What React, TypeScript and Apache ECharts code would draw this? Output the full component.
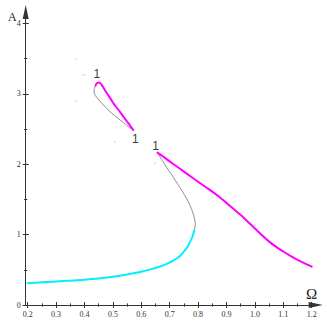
import React, { useEffect, useRef } from "react";
import * as echarts from "echarts";

// Tick values
const xMajorTicks = [0.2, 0.3, 0.4, 0.5, 0.6, 0.7, 0.8, 0.9, 1.0, 1.1, 1.2];
const xMinorTicks = [0.25, 0.35, 0.45, 0.55, 0.65, 0.75, 0.85, 0.95, 1.05, 1.15];
const yMajorTicks = [0, 1, 2, 3, 4];
const yMinorTicks = [0.5, 1.5, 2.5, 3.5];

// Lower stable branch (cyan)
const lowerStable: [number, number][] = [
  [0.2, 0.31], [0.25, 0.322], [0.3, 0.334], [0.35, 0.346], [0.4, 0.36], [0.45, 0.378],
  [0.5, 0.4], [0.55, 0.432], [0.6, 0.473], [0.63, 0.503], [0.66, 0.54], [0.69, 0.585],
  [0.71, 0.625], [0.725, 0.66], [0.737, 0.7], [0.748, 0.75], [0.758, 0.8], [0.766, 0.85],
  [0.772, 0.9], [0.778, 0.95], [0.782, 1.0], [0.787, 1.06],
];
// Middle unstable branch (grey)
const middleUnstable: [number, number][] = [
  [0.787, 1.06], [0.79, 1.15], [0.786, 1.25], [0.778, 1.35], [0.768, 1.45], [0.754, 1.55],
  [0.739, 1.65], [0.723, 1.75], [0.707, 1.85], [0.69, 1.95], [0.674, 2.05], [0.657, 2.165],
];
// Upper stable branch (magenta)
const upperStable: [number, number][] = [
  [0.657, 2.165], [0.68, 2.1], [0.7, 2.04], [0.725, 1.967], [0.75, 1.895], [0.775, 1.822],
  [0.8, 1.75], [0.825, 1.68], [0.85, 1.61], [0.875, 1.533], [0.9, 1.45], [0.925, 1.365],
  [0.95, 1.277], [0.975, 1.183], [1.0, 1.088], [1.025, 0.99], [1.05, 0.9], [1.075, 0.825],
  [1.1, 0.76], [1.125, 0.698], [1.15, 0.64], [1.175, 0.59], [1.2, 0.545],
];
// Isola: stable part (magenta)
const isolaStable: [number, number][] = [
  [0.439, 3.12], [0.444, 3.15], [0.45, 3.16], [0.458, 3.14], [0.472, 3.05], [0.487, 2.96],
  [0.501, 2.87], [0.52, 2.77], [0.537, 2.675], [0.555, 2.58], [0.572, 2.485],
];
// Isola: unstable part (grey)
const isolaUnstable: [number, number][] = [
  [0.439, 3.12], [0.434, 3.06], [0.435, 3.0], [0.443, 2.95], [0.46, 2.87], [0.478, 2.79],
  [0.5, 2.71], [0.525, 2.63], [0.547, 2.56], [0.566, 2.5], [0.572, 2.485],
];
// Faint stray points
const strayPoints: [number, number][] = [
  [0.369, 3.49], [0.392, 3.27], [0.401, 3.27], [0.369, 2.9], [0.507, 2.32], [0.648, 2.016],
];
// Bifurcation markers
const bifurcationPoints: [number, number][] = [[0.447, 3.158], [0.572, 2.485], [0.657, 2.165]];
const bifurcationLabels = ["1", "1", "1"];
const bifurcationOffsets: [number, number][] = [[-1, -9], [2, 9], [-2, -7]];

const X_MIN = 0.193;
const X_MAX = 1.214;
const Y_MIN = 0;
const Y_MAX = 4.162;

const GRID = { left: 25.7, top: 12, right: 11.3, bottom: 22 };
const AXIS_COLOR = "#333";
const LABEL_FONT = "Liberation Serif";

export default function App() {
  const ref = useRef<HTMLDivElement>(null);

  useEffect(() => {
    if (!ref.current) return;
    const chart = echarts.init(ref.current, null, { renderer: "svg" });

    const tickSets = [
      { ticks: [xMajorTicks, yMajorTicks], inside: false, len: 3, main: true },
      { ticks: [xMajorTicks, yMajorTicks], inside: true, len: 3, main: false },
      { ticks: [xMinorTicks, yMinorTicks], inside: false, len: 1.6, main: false },
      { ticks: [xMinorTicks, yMinorTicks], inside: true, len: 1.6, main: false },
    ];

    const grids = tickSets.map(() => ({ ...GRID, containLabel: false, outerBoundsMode: "none" }));

    const axisLineMain = {
      show: true,
      onZero: false,
      symbol: ["none", "triangle"],
      symbolSize: [6, 14],
      lineStyle: { color: AXIS_COLOR, width: 1 },
    };

    const xAxes = tickSets.map((t, i) => ({
      type: "value",
      gridIndex: i,
      min: X_MIN,
      max: X_MAX,
      splitLine: { show: false },
      axisLine: t.main ? axisLineMain : { show: false },
      axisTick: {
        show: true,
        inside: t.inside,
        length: t.len,
        customValues: t.ticks[0],
        lineStyle: { color: AXIS_COLOR, width: 1 },
      },
      axisLabel: t.main
        ? {
            show: true,
            customValues: xMajorTicks,
            formatter: (v: number) => v.toFixed(1),
            fontFamily: LABEL_FONT,
            fontSize: 8,
            color: "#333",
            margin: 5,
          }
        : { show: false },
    }));

    const yAxes = tickSets.map((t, i) => ({
      type: "value",
      gridIndex: i,
      min: Y_MIN,
      max: Y_MAX,
      splitLine: { show: false },
      axisLine: t.main ? axisLineMain : { show: false },
      axisTick: {
        show: true,
        inside: t.inside,
        length: t.len,
        customValues: t.ticks[1],
        lineStyle: { color: AXIS_COLOR, width: 1 },
      },
      axisLabel: t.main
        ? {
            show: true,
            customValues: yMajorTicks,
            formatter: (v: number) => v.toFixed(0),
            fontFamily: LABEL_FONT,
            fontSize: 8,
            color: "#333",
            margin: 5,
          }
        : { show: false },
    }));

    const line = (data: [number, number][], color: string, width: number, z: number) => ({
      type: "line",
      xAxisIndex: 0,
      yAxisIndex: 0,
      data,
      smooth: 0.25,
      showSymbol: false,
      symbol: "none",
      z,
      lineStyle: { color, width, cap: "round", join: "round" },
      silent: true,
    });

    chart.setOption({
      animation: false,
      grid: grids,
      xAxis: xAxes,
      yAxis: yAxes,
      series: [
        line(middleUnstable, "#8a8a8a", 1, 2),
        line(isolaUnstable, "#8a8a8a", 1, 2),
        line(lowerStable, "#00f0ff", 2, 3),
        line(upperStable, "#ff00ff", 2, 3),
        line(isolaStable, "#ff00ff", 2, 3),
        {
          type: "scatter",
          xAxisIndex: 0,
          yAxisIndex: 0,
          data: strayPoints,
          symbolSize: 2,
          itemStyle: { color: "#f8c8f5" },
          z: 1,
          silent: true,
        },
        {
          type: "scatter",
          xAxisIndex: 0,
          yAxisIndex: 0,
          symbolSize: 1,
          itemStyle: { color: "transparent" },
          z: 5,
          silent: true,
          data: bifurcationPoints.map((p, i) => ({
            value: p,
            name: bifurcationLabels[i],
            label: { offset: bifurcationOffsets[i] },
          })),
          label: {
            show: true,
            position: "inside",
            formatter: "{b}",
            fontFamily: "Liberation Sans",
            fontSize: 12,
            color: "#000",
          },
        },
      ],
      graphic: [
        {
          type: "text",
          x: 12.3,
          y: 17,
          style: {
            text: "A",
            fontFamily: LABEL_FONT,
            fontSize: 12,
            fill: "#222",
            align: "center",
            verticalAlign: "middle",
          },
        },
        {
          type: "text",
          x: 311.7,
          y: 294.3,
          style: {
            text: "Ω",
            fontFamily: LABEL_FONT,
            fontSize: 15,
            fill: "#222",
            align: "center",
            verticalAlign: "middle",
          },
        },
      ],
    });

    return () => chart.dispose();
  }, []);

  return (
    <div
      ref={ref}
      style={{ position: "absolute", left: 0, top: 0, width: 327, height: 327, background: "#fff" }}
    />
  );
}
